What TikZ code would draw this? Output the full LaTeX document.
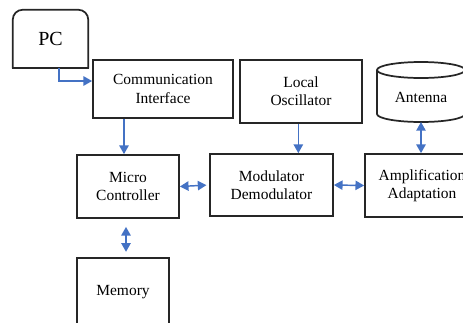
\documentclass[tikz,border=0pt]{standalone}
\usepackage{fontspec}
\setmainfont{Liberation Serif}
\usetikzlibrary{arrows.meta}

\definecolor{linkblue}{RGB}{68,114,196}

\begin{document}
\begin{tikzpicture}[
  x=0.75pt,y=-0.75pt,
  font=\rmfamily\fontsize{11.6}{13.7}\selectfont,
  >={Triangle[length=6.5pt,width=7pt]},
  box/.style={rectangle,draw=black!85,line width=1.3pt,align=center,inner sep=2pt},
  edge/.style={draw=black!85,line width=1.3pt},
  link/.style={->,line width=1.1pt,draw=linkblue},
  dlink/.style={<->,line width=1.1pt,draw=linkblue}
]
\useasboundingbox (0,0) rectangle (463,322);
\clip (0,0) rectangle (463,322);

% ---- top row ----
\node[minimum width=56.25pt,minimum height=43.5pt,font=\rmfamily\fontsize{15}{17}\selectfont] (pc) at (50.5,39) {PC};
\draw[edge,rounded corners=7.5pt] (pc.south west) -- (pc.north west) -- (pc.north east) -- (pc.south east);
\draw[edge,line cap=rect] (pc.south west) -- (pc.south east);
\node[box,minimum width=105pt,minimum height=43.5pt] (comm) at (163,89) {Communication\\Interface};
\node[box,minimum width=91.5pt,minimum height=47.25pt] (osc) at (301,91.5) {Local\\Oscillator};

% antenna drum
\node (ant) at (421,97) {Antenna};
\draw[edge] (421,70) ellipse [x radius=33pt,y radius=6pt];
\draw[edge] (377,70) -- (377,114) arc [start angle=180,end angle=360,x radius=33pt,y radius=6pt] -- (465,70);
\coordinate (antbot) at (421,122);

% ---- middle row ----
\node[box,minimum width=76.5pt,minimum height=47.25pt] (mcu) at (128,186.5) {Micro\\Controller};
\node[box,minimum width=92.25pt,minimum height=46.5pt] (mod) at (271.5,185) {Modulator\\Demodulator};
\node[box,minimum width=85.5pt,minimum height=47.25pt] (amp) at (422,185.5) {Amplification\\Adaptation};

% ---- bottom row ----
\node[box,minimum width=69pt,minimum height=51pt] (mem) at (123,292) {Memory};

% ---- arrows ----
\draw[link] ([xshift=6.4pt]pc.south) |- ([yshift=6pt]comm.west);
\draw[link] ([xshift=-3pt]mcu.north |- comm.south) -- ([xshift=-3pt]mcu.north);
\draw[link] ([xshift=-2pt]osc.south) -- ([xshift=-2pt]osc.south |- mod.north);
\draw[dlink] (antbot) -- (antbot |- amp.north);
\draw[dlink,shorten >=2pt] (mcu.east) -- (mod.west);
\draw[dlink] (mod.east) -- (amp.west);
\draw[dlink,shorten <=6pt,shorten >=4pt] ([xshift=-1.5pt]mcu.south) -- ([xshift=-1.5pt]mcu.south |- mem.north);

\end{tikzpicture}
\end{document}
